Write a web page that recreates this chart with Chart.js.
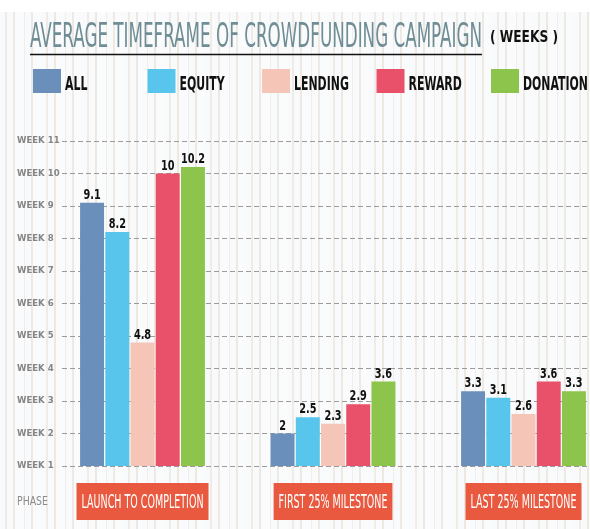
<!DOCTYPE html>
<html>
<head>
<meta charset="utf-8">
<script src="https://cdn.jsdelivr.net/npm/chart.js@4.4.0/dist/chart.umd.min.js"></script>
<style>
  html, body { margin: 0; padding: 0; }
  body {
    width: 590px; height: 529px; overflow: hidden;
    background:
      linear-gradient(#ffffff 0 12px, rgba(255,255,255,0) 12px),
      repeating-linear-gradient(90deg, #f8fafb 0 5px, #f0ebe5 5px 7px, #f8fafb 7px 13px, #eee8e1 13px 15px, #fafbfc 15px 24px, #f2ede8 24px 25px, #f8fafb 25px 31px, #efe9e3 31px 33px, #f9fbfc 33px 41px);
  }
  #wrap { position: relative; width: 590px; height: 529px; }
</style>
</head>
<body>
<div id="wrap"><canvas id="chart"></canvas></div>
<script>
// values in weeks, one entry per phase
const phases = ['LAUNCH TO COMPLETION', 'FIRST 25% MILESTONE', 'LAST 25% MILESTONE'];
const allValues = [9.1, 2, 3.3];
const equityValues = [8.2, 2.5, 3.1];
const lendingValues = [4.8, 2.3, 2.6];
const rewardValues = [10, 2.9, 3.6];
const donationValues = [10.2, 3.6, 3.3];
const weekLabels = ['WEEK 1', 'WEEK 2', 'WEEK 3', 'WEEK 4', 'WEEK 5', 'WEEK 6',
  'WEEK 7', 'WEEK 8', 'WEEK 9', 'WEEK 10', 'WEEK 11'];

const FONT = '"DejaVu Sans Condensed", "DejaVu Sans", sans-serif';

// draw text squeezed horizontally, the original uses a very narrow display font
function squeezedText(ctx, text, x, y, font, color, sx, align) {
  ctx.save();
  ctx.font = font;
  ctx.fillStyle = color;
  ctx.textBaseline = 'alphabetic';
  ctx.textAlign = 'left';
  const w = ctx.measureText(text).width * sx;
  let left = x;
  if (align === 'center') left = x - w / 2;
  else if (align === 'right') left = x - w;
  ctx.translate(left, y);
  ctx.scale(sx, 1);
  ctx.fillText(text, 0, 0);
  ctx.restore();
  return w;
}

// squeeze factor so that `text` comes out `width` px wide
function fitScale(ctx, text, font, width) {
  ctx.save();
  ctx.font = font;
  const w = ctx.measureText(text).width;
  ctx.restore();
  return width / w;
}

const headerPlugin = {
  id: 'header',
  afterDraw(chart) {
    const ctx = chart.ctx;

    // title + underline
    const titleFont = '34px ' + FONT;
    const title = 'AVERAGE TIMEFRAME OF CROWDFUNDING CAMPAIGN';
    squeezedText(ctx, title, 30, 47, titleFont, '#6f8d95', fitScale(ctx, title, titleFont, 452), 'left');
    const unitFont = 'bold 16px ' + FONT;
    squeezedText(ctx, '( WEEKS )', 490, 42, unitFont, '#111', fitScale(ctx, '( WEEKS )', unitFont, 68), 'left');
    ctx.save();
    ctx.strokeStyle = '#111';
    ctx.lineWidth = 1.5;
    ctx.beginPath();
    ctx.moveTo(30, 54.5);
    ctx.lineTo(482, 54.5);
    ctx.stroke();
    ctx.restore();

    // legend
    const legFont = 'bold 20px ' + FONT;
    const legScale = fitScale(ctx, 'DONATION', legFont, 65);
    chart.data.datasets.forEach((ds, i) => {
      const x = 33 + i * 114.5;
      ctx.fillStyle = ds.backgroundColor;
      ctx.fillRect(x, 69, 28, 24);
      squeezedText(ctx, ds.label, x + 32, 90, legFont, '#111', legScale, 'left');
    });

    // phase boxes under the bars
    const xs = chart.scales.x;
    const phaseFont = '12px ' + FONT;
    squeezedText(ctx, 'PHASE', 17, 505, phaseFont, '#8a8a8a', fitScale(ctx, 'PHASE', phaseFont, 31), 'left');
    const catFont = '19px ' + FONT;
    const catScale = fitScale(ctx, phases[0], catFont, 122);
    phases.forEach((p, i) => {
      const cx = xs.getPixelForValue(i);
      ctx.save();
      ctx.font = catFont;
      const w = ctx.measureText(p).width * catScale;
      ctx.restore();
      ctx.fillStyle = '#e9593f';
      ctx.fillRect(cx - w / 2 - 5, 483, w + 10, 37);
      squeezedText(ctx, p, cx, 508, catFont, '#ffffff', catScale, 'center');
    });
  },
  afterDatasetsDraw(chart) {
    const ctx = chart.ctx;
    const valFont = 'bold 14px ' + FONT;
    const valScale = fitScale(ctx, '10.2', valFont, 24);
    chart.data.datasets.forEach((ds, di) => {
      const meta = chart.getDatasetMeta(di);
      meta.data.forEach((bar, i) => {
        squeezedText(ctx, String(ds.data[i].y), bar.x, bar.y - 4, valFont, '#111', valScale, 'center');
      });
    });
  }
};

const toPoints = vals => vals.map((v, i) => ({ x: i, y: v }));

new Chart(document.getElementById('chart').getContext('2d'), {
  type: 'bar',
  data: {
    datasets: [
      { label: 'ALL', data: toPoints(allValues), backgroundColor: '#6b8fbb' },
      { label: 'EQUITY', data: toPoints(equityValues), backgroundColor: '#58c6ec' },
      { label: 'LENDING', data: toPoints(lendingValues), backgroundColor: '#f5c6b8' },
      { label: 'REWARD', data: toPoints(rewardValues), backgroundColor: '#e9516a' },
      { label: 'DONATION', data: toPoints(donationValues), backgroundColor: '#8cc44c' }
    ]
  },
  options: {
    responsive: true,
    maintainAspectRatio: false,
    animation: false,
    layout: { padding: { top: 141, left: 17, right: 0, bottom: 0 } },
    categoryPercentage: 0.662,
    barPercentage: 0.95,
    plugins: {
      legend: { display: false },
      title: { display: false },
      tooltip: { enabled: false }
    },
    scales: {
      x: {
        type: 'linear',
        offset: false,
        bounds: 'data',
        min: -0.4226,
        max: 2.349,
        grid: { display: false },
        border: { display: false },
        ticks: { display: false, stepSize: 1 },
        afterBuildTicks: scale => {
          scale.ticks = scale.ticks.filter(t => Number.isInteger(t.value));
        },
        afterFit: scale => { scale.height = 63; }
      },
      y: {
        min: 1,
        max: 11,
        border: { display: false, dash: [5, 3] },
        grid: { color: '#9a9a9a', drawTicks: false },
        ticks: {
          stepSize: 1,
          crossAlign: 'far',
          color: '#858585',
          font: { family: FONT, size: 9.5, weight: 'bold' },
          callback: v => weekLabels[v - 1]
        },
        afterFit: scale => { scale.width = 45; }
      }
    }
  },
  plugins: [headerPlugin]
});
</script>
</body>
</html>
